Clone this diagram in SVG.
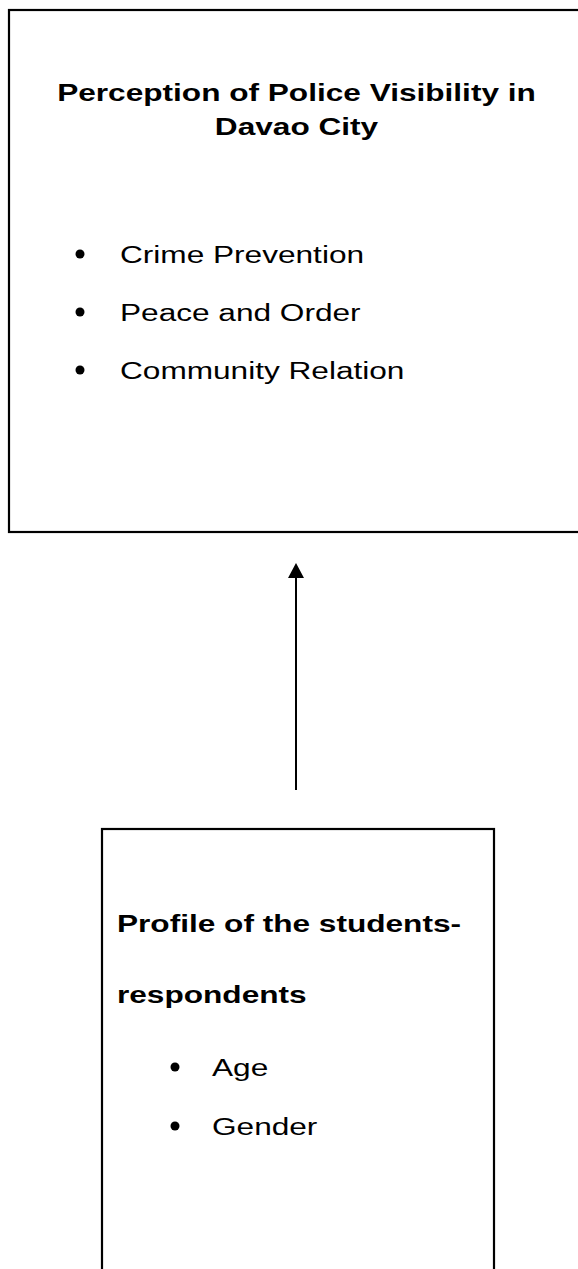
<svg xmlns="http://www.w3.org/2000/svg" width="578" height="1269" viewBox="0 0 578 1269">
<style>
.box{fill:#fff;stroke:#000;stroke-width:2.2}
.t{font-family:"Liberation Sans",Arial,sans-serif;font-size:24.5px;fill:#000}
.b{font-weight:bold}
.dot{fill:#000}
.conn{stroke:#000;stroke-width:2}
</style>
<rect width="578" height="1269" fill="#fff"/>
<g id="node-perception">
<rect class="box" x="9" y="10" width="600" height="522"/>
<text class="t b" text-anchor="middle" transform="translate(296.5,100.7) scale(1.29,1)">Perception of Police Visibility in</text>
<text class="t b" text-anchor="middle" transform="translate(296.5,135) scale(1.29,1)">Davao City</text>
<circle class="dot" cx="80" cy="254" r="4.5"/>
<text class="t" transform="translate(120,263) scale(1.29,1)">Crime Prevention</text>
<circle class="dot" cx="80" cy="312" r="4.5"/>
<text class="t" transform="translate(120,321) scale(1.29,1)">Peace and Order</text>
<circle class="dot" cx="80" cy="370" r="4.5"/>
<text class="t" transform="translate(120,379) scale(1.29,1)">Community Relation</text>
</g>
<g id="node-profile">
<rect class="box" x="102" y="829" width="392" height="460"/>
<text class="t b" transform="translate(117,932) scale(1.29,1)">Profile of the students-</text>
<text class="t b" transform="translate(117,1002.7) scale(1.29,1)">respondents</text>
<circle class="dot" cx="175" cy="1067" r="4.5"/>
<text class="t" transform="translate(212,1076) scale(1.29,1)">Age</text>
<circle class="dot" cx="175" cy="1126" r="4.5"/>
<text class="t" transform="translate(212,1135) scale(1.29,1)">Gender</text>
</g>
<g id="connectors">
<line class="conn" x1="296" y1="790" x2="296" y2="576"/>
<polygon points="296,563 288,578 304,578" fill="#000"/>
</g>
</svg>
